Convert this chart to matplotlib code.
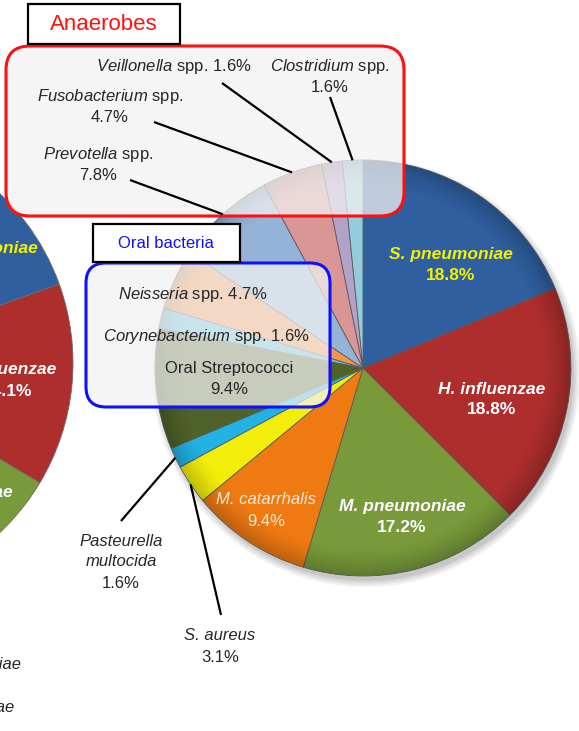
import numpy as np
import matplotlib
matplotlib.use("Agg")
import matplotlib.pyplot as plt
from matplotlib.patches import FancyBboxPatch, Rectangle, Circle

plt.rcParams['font.family'] = ['Liberation Sans', 'DejaVu Sans']
plt.rcParams['mathtext.fontset'] = 'custom'
plt.rcParams['mathtext.rm'] = 'Liberation Sans'
plt.rcParams['mathtext.it'] = 'Liberation Sans:italic'
plt.rcParams['mathtext.bf'] = 'Liberation Sans:bold'

# ---------------- data ----------------
categories = ["S. pneumoniae", "H. influenzae", "M. pneumoniae", "M. catarrhalis",
              "S. aureus", "Pasteurella multocida", "Oral Streptococci",
              "Corynebacterium spp.", "Neisseria spp.", "Prevotella spp.",
              "Fusobacterium spp.", "Veillonella spp.", "Clostridium spp."]
values = [18.8, 18.8, 17.2, 9.4, 3.1, 1.6, 9.4, 1.6, 4.7, 7.8, 4.7, 1.6, 1.6]
colors = ["#2F5F9F", "#AE2E2E", "#789A3A", "#F07A12", "#F2EE0A", "#22B2E4",
          "#4F6228", "#5BC0DE", "#F79646", "#95B3D7", "#D99694", "#B3A2C7", "#93CDDD"]

# partially visible pie at the left edge (only first three slices visible)
left_categories = ["S. pneumoniae", "H. influenzae", "M. pneumoniae", "others"]
left_values = [19.5, 14.1, 15.0, 51.4]
left_colors = ["#2F5F9F", "#AE2E2E", "#789A3A", "#F07A12"]

W, H = 579, 731
def Y(y):
    return H - y

fig = plt.figure(figsize=(W / 100, H / 100), dpi=100)
ax = fig.add_axes([0, 0, 1, 1])

# ---------------- left partial pie ----------------
lc = (-160, Y(363)); lr = 233
ax.pie(left_values, colors=left_colors, startangle=90, counterclock=False,
       center=lc, radius=lr, wedgeprops=dict(edgecolor="#6a6a6a", linewidth=0.6))

# ---------------- main pie ----------------
mc = (363, Y(368)); mr = 208
for k, a in enumerate([0.05, 0.05, 0.06, 0.07]):
    ax.add_patch(Circle((mc[0] + 3, mc[1] - 5), mr + 6 - 2 * k, color="black",
                        alpha=a, lw=0, zorder=0.5))
wedges, _ = ax.pie(values, colors=colors, startangle=90, counterclock=False,
                   center=mc, radius=mr,
                   wedgeprops=dict(edgecolor="#5a5a5a", linewidth=0.6))

# rim darkening (bevel feel)
n = 600
xs = np.linspace(mc[0] - mr, mc[0] + mr, n)
ys = np.linspace(mc[1] - mr, mc[1] + mr, n)
XX, YY = np.meshgrid(xs, ys)
rr = np.hypot(XX - mc[0], YY - mc[1]) / mr
shade = np.zeros((n, n, 4))
alpha = np.clip((rr - 0.86) / 0.14, 0, 1) ** 1.5 * 0.22
alpha[rr > 1] = 0
shade[..., 3] = alpha
ax.imshow(shade, extent=(mc[0] - mr, mc[0] + mr, mc[1] - mr, mc[1] + mr),
          origin="lower", zorder=1.5, interpolation="bilinear")

def wedge_point(i, frac=1.0):
    w = wedges[i]
    th = np.deg2rad((w.theta1 + w.theta2) / 2)
    return mc[0] + frac * mr * np.cos(th), mc[1] + frac * mr * np.sin(th)

# ---------------- group boxes ----------------
ax.add_patch(FancyBboxPatch((6, Y(216)), 398, 170,
             boxstyle="round,pad=0,rounding_size=24",
             facecolor="#F2F2F2", alpha=0.74, edgecolor="none", zorder=3))
ax.add_patch(FancyBboxPatch((6, Y(216)), 398, 170,
             boxstyle="round,pad=0,rounding_size=24",
             facecolor="none", edgecolor="#FF1010", lw=2.2, zorder=3.1))
ax.add_patch(Rectangle((28, Y(44)), 152, 40, facecolor="white",
                       edgecolor="black", lw=1.6, zorder=3.2))
ax.text(104, Y(24), "Anaerobes", color="#FF1010", fontsize=16,
        ha="center", va="center", zorder=5)

ax.add_patch(FancyBboxPatch((86, Y(407)), 244, 144,
             boxstyle="round,pad=0,rounding_size=20",
             facecolor="#F2F2F2", alpha=0.74, edgecolor="none", zorder=3))
ax.add_patch(FancyBboxPatch((86, Y(407)), 244, 144,
             boxstyle="round,pad=0,rounding_size=20",
             facecolor="none", edgecolor="#1010FF", lw=2.2, zorder=3.1))
ax.add_patch(Rectangle((93, Y(262)), 147, 38, facecolor="white",
                       edgecolor="black", lw=1.6, zorder=3.2))
ax.text(166, Y(243), "Oral bacteria", color="#1010FF", fontsize=12,
        ha="center", va="center", zorder=5)

# ---------------- labels ----------------
tc = "#262626"
fs = 12
def lab(x, y, s, **kw):
    d = dict(color=tc, fontsize=fs, ha="center", va="center", zorder=5)
    d.update(kw)
    ax.text(x, Y(y), s, **d)

def leader(i, x0, y0, frac=1.0):
    x1, y1 = wedge_point(i, frac)
    ax.plot([x0, x1], [Y(y0), y1], color="black", lw=1.6, zorder=4.5,
            solid_capstyle="butt")

# anaerobes
lab(174, 67, r"$\mathit{Veillonella}$ spp. 1.6%")
leader(11, 222, 83)
lab(330, 67, r"$\mathit{Clostridium}$ spp.")
lab(330, 88, "1.6%")
leader(12, 330, 97)
lab(110, 97, r"$\mathit{Fusobacterium}$ spp.")
lab(110, 118, "4.7%")
leader(10, 154, 122)
lab(98, 155, r"$\mathit{Prevotella}$ spp.")
lab(98, 176, "7.8%")
leader(9, 130, 180)

# oral bacteria
lab(193, 294, r"$\mathit{Neisseria}$ spp. 4.7%")
lab(206, 336, r"$\mathit{Corynebacterium}$ spp. 1.6%")
lab(229, 369, "Oral Streptococci")
lab(229, 390, "9.4%")

# outside labels
lab(121, 541, "Pasteurella", style="italic")
lab(121, 562, "multocida", style="italic")
lab(121, 583, "1.6%")
leader(5, 121, 521)
lab(220, 636, "S. aureus", style="italic")
lab(220, 657, "3.1%")
leader(4, 221, 615)

# inside labels
bfs = 12.5
lab(451, 254, "S. pneumoniae", color="#F2F200", fontsize=bfs, weight="bold", style="italic")
lab(451, 276, "18.8%", color="#F2F200", fontsize=bfs, weight="bold")
lab(492, 389, "H. influenzae", color="white", fontsize=bfs, weight="bold", style="italic")
lab(492, 410, "18.8%", color="white", fontsize=bfs, weight="bold")
lab(402, 507, "M. pneumoniae", color="white", fontsize=bfs, weight="bold", style="italic")
lab(402, 528, "17.2%", color="white", fontsize=bfs, weight="bold")
lab(266, 500, "M. catarrhalis", color="#FFE9D6", fontsize=fs, style="italic")
lab(266, 521, "9.4%", color="#FFE9D6", fontsize=fs)

# left pie labels (cut off by the figure edge, as in the source)
lab(38, 248, "S. pneumoniae", color="#F2F200", fontsize=bfs, weight="bold", style="italic", ha="right")
lab(56, 370, "H. influenzae", color="white", fontsize=bfs, weight="bold", style="italic", ha="right")
lab(32, 391, "14.1%", color="white", fontsize=bfs, weight="bold", ha="right")
lab(13, 492, "M. pneumoniae", color="white", fontsize=bfs, weight="bold", style="italic", ha="right")

# bottom-left cut-off texts
lab(21, 665, "S. pneumoniae", style="italic", ha="right")
lab(14, 708, "H. influenzae", style="italic", ha="right")

ax.set_xlim(0, W)
ax.set_ylim(0, H)
ax.set_aspect("equal")
ax.axis("off")
fig.savefig("out.png", dpi=100)
